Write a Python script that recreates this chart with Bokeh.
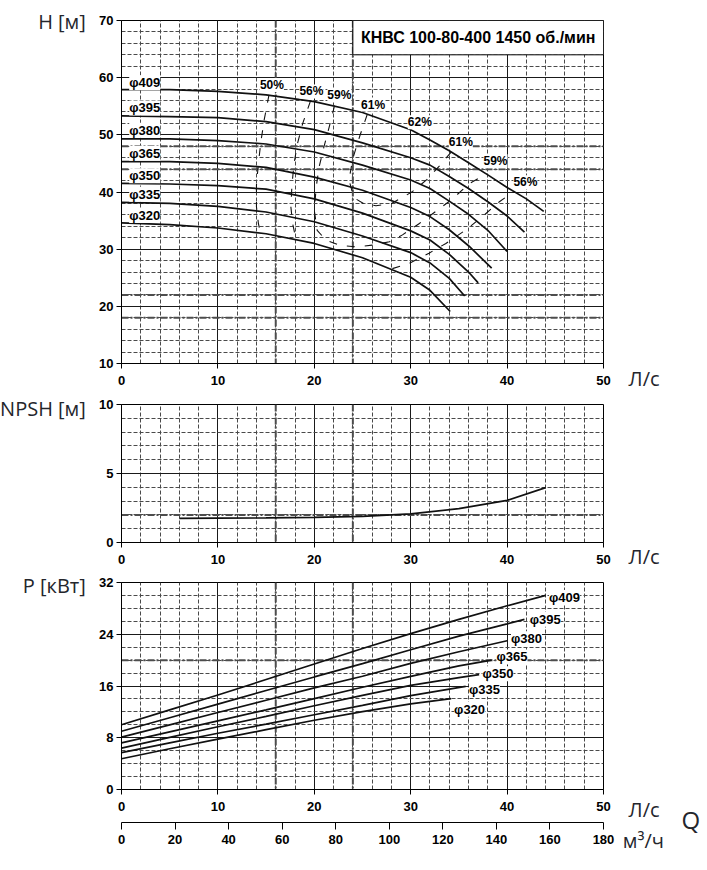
from bokeh.plotting import figure
from bokeh.models import Range1d, Span, Label, SingleIntervalTicker, FixedTicker, LinearAxis
from bokeh.layouts import column
from bokeh.embed import file_html
from bokeh.resources import INLINE

# ---------------- data ----------------
diam_labels = ["φ409", "φ395", "φ380", "φ365", "φ350", "φ335", "φ320"]

# H(Q) curves, Q in l/s, H in m
q409 = [0, 5, 10, 15, 20, 25, 30, 32, 34, 36, 38, 40, 42, 43.8]
h409 = [57.9, 57.9, 57.6, 57.0, 55.8, 53.9, 50.9, 49.1, 47.2, 45.1, 43.0, 40.8, 38.8, 36.6]
q395 = [0, 5, 10, 15, 20, 25, 30, 32, 34, 36, 38, 40, 41.8]
h395 = [53.3, 53.2, 53.0, 52.3, 50.9, 48.6, 46.0, 44.7, 42.7, 40.6, 38.3, 35.8, 33.0]
q380 = [0, 5, 10, 15, 20, 25, 30, 32, 34, 36, 38, 40]
h380 = [49.3, 49.3, 49.0, 48.4, 47.0, 44.7, 42.1, 40.6, 38.4, 36.1, 33.3, 29.6]
q365 = [0, 5, 10, 15, 20, 25, 30, 32, 34, 36, 38.4]
h365 = [45.3, 45.3, 45.0, 44.3, 42.6, 40.3, 37.3, 35.7, 33.4, 30.6, 26.7]
q350 = [0, 5, 10, 15, 20, 25, 30, 32, 34, 36, 37.0]
h350 = [41.5, 41.4, 41.1, 40.5, 38.8, 36.3, 33.2, 31.6, 29.1, 26.0, 24.1]
q335 = [0, 5, 10, 15, 20, 25, 30, 32, 34, 35.6]
h335 = [38.2, 38.0, 37.5, 36.5, 34.8, 32.3, 29.4, 27.6, 24.9, 21.8]
q320 = [0, 5, 10, 15, 20, 25, 30, 32, 34.1]
h320 = [34.6, 34.3, 33.7, 32.7, 31.0, 28.5, 25.1, 22.8, 19.1]

# iso-efficiency lines
eff_labels = ["50%", "56%", "59%", "61%", "62%", "61%", "59%", "56%"]
eff50_q = [15.3, 14.8, 14.46, 14.2, 14.0, 14.0, 14.2, 14.4]
eff50_h = [57.0, 52.6, 48.8, 45.0, 41.2, 37.4, 34.5, 32.9]
eff56a_q = [19.6, 18.8, 18.26, 17.9, 17.68, 17.57, 17.75, 18.1]
eff56a_h = [55.9, 52.0, 48.5, 45.0, 41.2, 37.4, 34.5, 31.7]
eff59_q = [22.1, 21.55, 21.0, 20.5, 20.2, 20.0, 20.3, 21.2, 22.6, 24.3, 26.0, 27.8, 29.15, 30.9, 32.6, 34.2, 36.1, 37.9]
eff59_h = [55.1, 51.4, 47.9, 44.4, 40.9, 36.8, 33.3, 31.6, 30.7, 30.4, 30.7, 31.3, 32.5, 34.5, 36.6, 38.6, 41.5, 43.2]
eff61_q = [25.5, 24.7, 24.0, 23.6, 24.1, 25.2, 26.4, 28.0, 29.0, 30.2, 31.7, 33.0, 34.2]
eff61_h = [53.6, 49.7, 45.9, 42.1, 39.0, 37.9, 37.6, 38.0, 38.9, 40.1, 42.2, 44.6, 47.0]
eff56b_q = [28.1, 29.85, 31.9, 33.65, 35.7, 37.45, 39.2, 40.7]
eff56b_h = [26.6, 27.5, 29.3, 31.0, 33.35, 35.7, 38.3, 40.1]

# NPSH(Q)
npsh_q = [6, 10, 15, 20, 25, 30, 35, 40, 44]
npsh_v = [1.75, 1.76, 1.78, 1.82, 1.9, 2.08, 2.45, 3.05, 3.98]

# P(Q), kW
pq409 = [0, 5, 10, 15, 20, 25, 30, 35, 40, 44.0]
p409 = [10.0, 12.3, 14.6, 17.0, 19.4, 21.8, 24.1, 26.3, 28.4, 30.0]
pq395 = [0, 5, 10, 15, 20, 25, 30, 35, 40, 41.8]
p395 = [9.0, 11.1, 13.2, 15.3, 17.4, 19.45, 21.6, 23.7, 25.6, 26.3]
pq380 = [0, 5, 10, 15, 20, 25, 30, 35, 40.0]
p380 = [8.1, 10.0, 11.9, 13.8, 15.7, 17.5, 19.5, 21.3, 23.0]
pq365 = [0, 5, 10, 15, 20, 25, 30, 35, 38.4]
p365 = [7.2, 8.9, 10.6, 12.3, 14.05, 15.8, 17.5, 19.1, 20.0]
pq350 = [0, 5, 10, 15, 20, 25, 30, 35, 37.1]
p350 = [6.4, 8.05, 9.7, 11.3, 12.95, 14.55, 16.1, 17.3, 17.75]
pq335 = [0, 5, 10, 15, 20, 25, 30, 35.7]
p335 = [5.7, 7.2, 8.7, 10.1, 11.55, 13.0, 14.5, 15.95]
pq320 = [0, 5, 10, 15, 20, 25, 30, 34.2]
p320 = [4.75, 6.3, 7.8, 9.25, 10.7, 12.05, 13.25, 14.05]

m3h_ticks = [0, 20, 40, 60, 80, 100, 120, 140, 160, 180]

title_text = "КНВС 100-80-400 1450 об./мин"

# ---------------- style helpers ----------------
FW = 482
LEFT = 121
RIGHT = 100
TICK_FONT = "Liberation Sans"
LBL_FONT = "Open Sans"
INK = "#111111"


def style_axis(ax, tick_out=5, standoff=7):
    ax.axis_line_color = "black"
    ax.major_tick_line_color = "black"
    ax.major_tick_out = tick_out
    ax.major_tick_in = 0
    ax.minor_tick_line_color = None
    ax.major_label_standoff = standoff
    ax.major_label_text_font = TICK_FONT
    ax.major_label_text_font_style = "bold"
    ax.major_label_text_font_size = "13px"
    ax.major_label_text_color = "black"


def make_fig(ymin, ymax, fh, top, bottom, yint, yminor):
    p = figure(x_range=Range1d(0, 50), y_range=Range1d(ymin, ymax),
               frame_width=FW, frame_height=fh,
               min_border_left=LEFT, min_border_right=RIGHT,
               min_border_top=top, min_border_bottom=bottom,
               toolbar_location=None, output_backend="svg", title=None)
    p.outline_line_color = "black"
    p.outline_line_width = 1
    p.background_fill_color = "white"
    p.border_fill_color = "white"
    xt = SingleIntervalTicker(interval=10, num_minor_ticks=5)
    yt = SingleIntervalTicker(interval=yint, num_minor_ticks=yminor)
    p.xaxis.ticker = xt
    p.yaxis.ticker = yt
    p.xgrid.ticker = xt
    p.ygrid.ticker = yt
    for g in (p.xgrid, p.ygrid):
        g.grid_line_color = "#1a1a1a"
        g.grid_line_width = 1
        g.minor_grid_line_color = "#4a4a4a"
        g.minor_grid_line_width = 1
        g.minor_grid_line_dash = "4 2"
    style_axis(p.xaxis[0], 5, 7)
    style_axis(p.yaxis[0], 5, 3)
    return p


def heavy(p, loc, dim):
    p.add_layout(Span(location=loc, dimension=dim, line_color="#4d4d4d",
                      line_width=2, line_dash="7 2 2 2", level="underlay"))


def side_label(p, x, y, text, side, size="20px", align="left"):
    p.add_layout(Label(x=x, y=y, text=text, text_font=LBL_FONT,
                       text_font_size=size, text_color="#24262c",
                       text_align=align, text_baseline="alphabetic"), side)


# ---------------- top: H(Q) ----------------
p1 = make_fig(10, 70, 343, 20, 29, 10, 5)
for v in (16, 24):
    heavy(p1, v, "height")
for v in (18, 22, 44, 48):
    heavy(p1, v, "width")

p1.quad(left=[24], right=[50], bottom=[64], top=[70],
        fill_color="white", line_color="black", line_width=1)
p1.add_layout(Label(x=37, y=67, text=title_text, text_font=TICK_FONT,
                    text_font_style="bold", text_font_size="16px",
                    text_align="center", text_baseline="middle", text_color="black"))

for qs, hs in ((eff50_q, eff50_h), (eff56a_q, eff56a_h), (eff59_q, eff59_h),
               (eff61_q, eff61_h), (eff56b_q, eff56b_h)):
    p1.line(qs, hs, line_color=INK, line_width=1.1, line_dash="8 10")

h_curves = [(q409, h409), (q395, h395), (q380, h380), (q365, h365),
            (q350, h350), (q335, h335), (q320, h320)]
for qs, hs in h_curves:
    p1.line(qs, hs, line_color=INK, line_width=1.7)

top_lbl_y = [59.1, 54.7, 50.8, 46.8, 42.85, 39.6, 35.9]
for t, y in zip(diam_labels, top_lbl_y):
    p1.add_layout(Label(x=0.8, y=y, text=t, text_font=TICK_FONT, text_font_style="bold",
                        text_font_size="13px", text_align="left", text_baseline="middle",
                        text_color="black", background_fill_color="white"))

eff_lbl_x = [15.6, 19.7, 22.6, 26.1, 30.95, 35.2, 38.8, 41.9]
eff_lbl_y = [58.7, 57.6, 56.9, 55.3, 52.2, 48.7, 45.4, 41.7]
for t, x, y in zip(eff_labels, eff_lbl_x, eff_lbl_y):
    p1.add_layout(Label(x=x, y=y, text=t, text_font=TICK_FONT, text_font_style="bold",
                        text_font_size="12px", text_align="center", text_baseline="middle",
                        text_color="black", background_fill_color="white"))

side_label(p1, -3.7, 69.8, "H [м]", "left", align="right")
side_label(p1, 52.6, 7.4, "Л/с", "right")

# ---------------- middle: NPSH ----------------
p2 = make_fig(0, 10, 138, 12, 28, 5, 5)
for v in (16, 24):
    heavy(p2, v, "height")
heavy(p2, 2, "width")
p2.line(npsh_q, npsh_v, line_color=INK, line_width=1.7)
side_label(p2, -3.7, 9.74, "NPSH [м]", "left", align="right")
side_label(p2, 52.6, -1.02, "Л/с", "right")

# ---------------- bottom: P + secondary Q axis ----------------
p3 = make_fig(0, 32, 207, 12, 72, 8, 4)
p3.extra_x_ranges = {"m3h": Range1d(0, 180)}
# invisible spacer label so that the m3/h axis sits lower
p3.xaxis[0].axis_label = " "
p3.xaxis[0].axis_label_text_font_size = "2px"
p3.xaxis[0].axis_label_standoff = 4
ax2 = LinearAxis(x_range_name="m3h", ticker=FixedTicker(ticks=m3h_ticks))
style_axis(ax2, 7, 5)
p3.add_layout(ax2, "below")

for v in (16, 24):
    heavy(p3, v, "height")
heavy(p3, 20, "width")
p_curves = [(pq409, p409), (pq395, p395), (pq380, p380), (pq365, p365),
            (pq350, p350), (pq335, p335), (pq320, p320)]
for qs, ps in p_curves:
    p3.line(qs, ps, line_color=INK, line_width=1.7)

bot_lbl_x = [44.35, 42.35, 40.4, 38.9, 37.45, 36.05, 34.5]
bot_lbl_y = [29.7, 26.3, 23.3, 20.5, 17.9, 15.5, 12.4]
for t, x, y in zip(diam_labels, bot_lbl_x, bot_lbl_y):
    p3.add_layout(Label(x=x, y=y, text=t, text_font=TICK_FONT, text_font_style="bold",
                        text_font_size="13px", text_align="left", text_baseline="middle",
                        text_color="black", background_fill_color="white"))
side_label(p3, -3.7, 31.55, "P [кВт]", "left", align="right")
side_label(p3, 52.6, -3.02, "Л/с", "right")
side_label(p3, 58.1, -4.68, "Q", "right", size="24px")
side_label(p3, 52.0, -7.84, "м³/ч", "right")

layout = column(p1, p2, p3, spacing=0)
open("out.html", "w").write(file_html(layout, INLINE))
